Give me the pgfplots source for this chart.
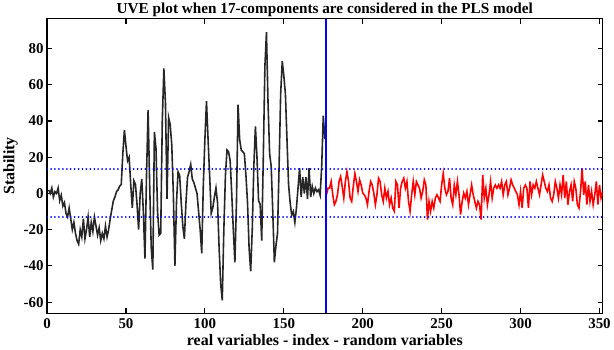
\documentclass[border=0pt]{standalone}
\usepackage{pgfplots}
\pgfplotsset{compat=1.18}
\usepackage{fontspec}
\setmainfont{Liberation Serif}
\begin{document}
\begin{tikzpicture}
\begin{axis}[
  scale only axis,
  width=558pt, height=296pt,
  xmin=0, xmax=352, ymin=-66.2, ymax=96.5,
  xtick={0,50,...,350}, ytick={-60,-40,...,80},
  tick pos=both, tick align=inside,
  major tick length=5pt,
  axis line style={line width=1.5pt},
  every tick/.style={line width=1.1pt, black},
  tick label style={font=\fontsize{15}{17}\selectfont\bfseries},
  xticklabel style={yshift=-2pt},
  /pgf/number format/assume math mode=true,
  xlabel={real variables - index - random variables},
  ylabel={Stability},
  label style={font=\fontsize{16}{18}\selectfont\bfseries},
  title={UVE plot when 17-components are considered in the PLS model},
  title style={font=\fontsize{15.3}{17}\selectfont\bfseries, yshift=-8pt},
  xlabel style={yshift=1pt},
  ylabel style={yshift=-1pt},
]
\addplot[color=black!85, line width=1.6pt] coordinates {
(1,2)(2,0)(3,3)(4,-2)(5,1)(6,0)(7,3)(8,-4)(9,-1)(10,-7)
(11,-5)(12,-11)(13,-13)(14,-8)(15,-14)(16,-20)(17,-16)(18,-22)(19,-26)(20,-28)
(21,-20)(22,-24)(23,-14)(24,-25)(25,-20)(26,-13)(27,-24)(28,-16)(29,-21)(30,-13)
(31,-18)(32,-23)(33,-19)(34,-26)(35,-22)(36,-25)(37,-18)(38,-24)(39,-20)(40,-14)
(41,-9)(42,-4)(43,-2)(44,1)(45,2)(46,4)(47,5)(48,22)(49,35)(50,26)
(51,18)(52,20)(53,5)(54,-8)(55,7)(56,5)(57,-6)(58,-20)(59,0)(60,8)
(61,-10)(62,-36)(63,10)(64,46)(65,5)(66,-30)(67,-42)(68,34)(69,25)(70,-10)
(71,-23)(72,-22)(73,40)(74,69)(75,50)(76,-3)(77,42)(78,38)(79,27)(80,0)
(81,-40)(82,-5)(83,12)(84,10)(85,-5)(86,-18)(87,-25)(88,-5)(89,9)(90,12)
(91,16)(92,8)(93,6)(94,3)(95,0)(96,-10)(97,-20)(98,-33)(99,5)(100,30)
(101,51)(102,30)(103,10)(104,-11)(105,-8)(106,-2)(107,3)(108,-5)(109,-30)(110,-50)
(111,-59)(112,-20)(113,10)(114,24)(115,23)(116,18)(117,0)(118,-20)(119,-38)(120,-5)
(121,49)(122,30)(123,24)(124,23)(125,22)(126,10)(127,-5)(128,-30)(129,-43)(130,-20)
(131,15)(132,37)(133,20)(134,-4)(135,-6)(136,-26)(137,20)(138,70)(139,89)(140,50)
(141,22)(142,15)(143,-10)(144,-38)(145,-29)(146,-22)(147,15)(148,55)(149,73)(150,65)
(151,55)(152,30)(153,5)(154,-5)(155,-12)(156,-10)(157,-16)(158,-8)(159,3)(160,14)
(161,-2)(162,9)(163,0)(164,9)(165,-3)(166,14)(167,-2)(168,4)(169,0)(170,3)
(171,1)(172,2)(173,-1)(174,15)(175,43)(176,30)
};
\addplot[color=red, line width=1.6pt] coordinates {
(177,-0.7)(178,2.9)(179,2.9)(180,6.6)(181,-0.7)(182,-6.2)(183,-4.4)(184,-0.7)(185,6.6)(186,9.3)
(187,3.8)(188,-2.5)(189,6.6)(190,12)(191,6.6)(192,-2.5)(193,-4.4)(194,3.8)(195,11)(196,6.6)
(197,1.1)(198,7.5)(199,4.7)(200,0.2)(201,-0.7)(202,-2.5)(203,-6.2)(204,1.1)(205,6.6)(206,4.7)
(207,0.2)(208,-6.2)(209,-0.7)(210,8.4)(211,6.6)(212,-0.7)(213,-4.4)(214,2.9)(215,-2.5)(216,1.1)
(217,-6.2)(218,-2.5)(219,-8)(220,-9.8)(221,6.6)(222,4.7)(223,-8)(224,2.9)(225,6.6)(226,8.4)
(227,2.9)(228,6.6)(229,-4.4)(230,-9.8)(231,-0.7)(232,6.6)(233,-0.7)(234,6.6)(235,4.7)(236,2.9)
(237,-2.5)(238,1.1)(239,7.5)(240,4.7)(241,-14.4)(242,-4.4)(243,-9.8)(244,-4.4)(245,-8)(246,-2.5)
(247,-0.7)(248,-2.5)(249,-4.4)(250,4.7)(251,11)(252,2.9)(253,-0.7)(254,1.1)(255,8.4)(256,-2.5)
(257,-6.2)(258,4.7)(259,-0.7)(260,6.6)(261,-0.7)(262,-11.6)(263,-4.4)(264,0.2)(265,-2.5)(266,1.1)
(267,-6.2)(268,-0.7)(269,4.7)(270,-0.7)(271,-4.4)(272,-8)(273,-4.4)(274,-6.2)(275,-14.4)(276,10.2)
(277,-2.5)(278,2.9)(279,-6.2)(280,-0.7)(281,6.6)(282,-2.5)(283,2.9)(284,4.7)(285,2.9)(286,4.7)
(287,2.9)(288,6.6)(289,-0.7)(290,4.7)(291,6.6)(292,-0.7)(293,2.9)(294,7.5)(295,4.7)(296,2.9)
(297,1.1)(298,-0.7)(299,-6.2)(300,1.1)(301,-8)(302,2.9)(303,4.7)(304,2.9)(305,-8)(306,6.6)
(307,-0.7)(308,4.7)(309,2.9)(310,6.6)(311,2.9)(312,-0.7)(313,4.7)(314,10.2)(315,6.6)(316,2.9)
(317,1.1)(318,4.7)(319,-2.5)(320,-4.4)(321,-0.7)(322,6.6)(323,2.9)(324,-2.5)(325,4.7)(326,-0.7)
(327,10.2)(328,-2.5)(329,6.6)(330,-6.2)(331,1.1)(332,4.7)(333,-4.4)(334,6.6)(335,2.9)(336,-6.2)
(337,-8)(338,1.1)(339,13.8)(340,-0.7)(341,6.6)(342,-6.2)(343,4.7)(344,-4.4)(345,1.1)(346,-6.2)
(347,-0.7)(348,6.6)(349,-6.2)(350,4.7)(351,-2.5)(352,1.1)
};
\addplot[draw=blue, line width=1.9pt, line cap=round, dash pattern=on 0.05pt off 3.9pt, forget plot] coordinates {(0,13.4)(352,13.4)};
\addplot[draw=blue, line width=1.9pt, line cap=round, dash pattern=on 0.05pt off 3.9pt, forget plot] coordinates {(0,-12.8)(352,-12.8)};
\addplot[draw=blue, line width=1.8pt, forget plot] coordinates {(176.5,-66.2)(176.5,96.5)};
\end{axis}
\end{tikzpicture}
\end{document}
